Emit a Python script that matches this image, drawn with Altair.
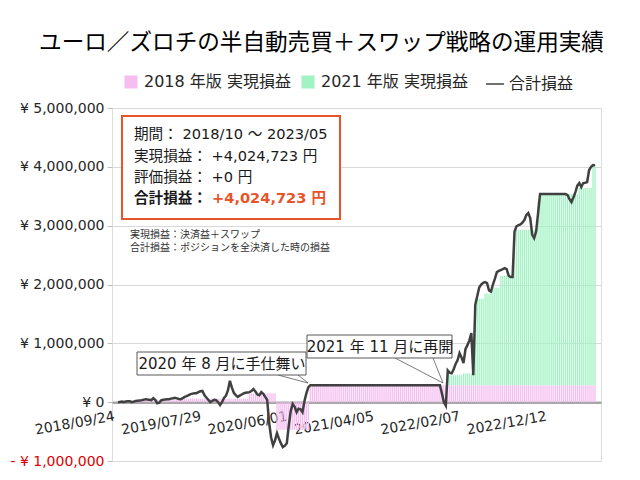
import altair as alt
import pandas as pd

# ---------------- data (values in thousand yen) ----------------
weeks = pd.date_range("2018-09-24", periods=244, freq="7D")
dates = [d.strftime("%Y-%m-%d") for d in weeks]

total_k = (
    [0, 5, 10, 5, 10, 15, 17, 0, 10, 20]
    + [25, 30, 34, 40, 51, 45, 40, 34, 68, 40]
    + [-20, -10, 30, 40, 45, 50, 51, 60, 65, 73]
    + [65, 55, 51, 70, 90, 102, 120, 136, 145, 150]
    + [153, 170, 185, 192, 120, 80, 40, 0, 20, 40]
    + [34, 0, -50, 0, 70, 110, 200, 362, 250, 160]
    + [120, 90, 110, 130, 150, 160, 165, 170, 190, 221]
    + [180, 130, 119, 170, 140, 90, 40, -350, -600, -731]
    + [-650, -527, -620, -700, -765, -740, -697, -400, -150, -30]
    + [-80, -170, -110, -120, -170, 20, 153, 255]
    + [289] * 67
    + [150, 0, -60]
    + [540, 500, 490, 560, 650, 714, 833, 760, 663, 900]
    + [969, 1050, 1173, 459, 1650, 1800, 1950, 2000, 2030, 2041]
    + [2024, 1900, 1880, 2000, 2100, 2211, 2230, 2245, 2260, 2279]
    + [2262, 2150, 2126, 2126, 2900, 2990, 3010, 3020, 3050, 3095]
    + [3180, 3214, 3129, 2850, 2789, 2900, 3214]
    + [3537] * 13
    + [3537, 3520, 3450, 3401, 3480, 3571, 3680, 3724, 3656, 3724]
    + [3730, 3741, 3946, 4000, 4031, 4025]
)

pink_k = [10] * 10 + [40] * 21 + [60] * 36 + [150] * 14 + [-470] * 17 + [289] * 146

green_k = (
    [0] * 168 + [170] * 8 + [200] * 6 + [1470] * 5 + [1560] * 4 + [1660] * 4
    + [1860] * 7 + [2640] * 12 + [3110] * 1 + [3248] * 20 + [3350] * 7 + [3736] * 2
)

series_names = ["2018 年版 実現損益", "2021 年版 実現損益"]
line_name = "合計損益"
tick_dates = ["2018-09-24", "2019-07-29", "2020-06-01", "2021-04-05", "2022-02-07", "2022-12-12"]
y_ticks = [-1000000, 0, 1000000, 2000000, 3000000, 4000000, 5000000]

# ---------------- tables ----------------
bars_df = pd.DataFrame({
    "date": dates * 2,
    "series": [series_names[0]] * len(dates) + [series_names[1]] * len(dates),
    "value": [v * 1000 for v in pink_k] + [v * 1000 for v in green_k],
})
line_df = pd.DataFrame({
    "date": dates,
    "name": [line_name] * len(dates),
    "value": [v * 1000 for v in total_k],
})

def ms(s):
    return int(pd.Timestamp(s, tz="UTC").timestamp() * 1000)

half_week = int(3.5 * 86400000)
x_domain = [ms(dates[0]) - half_week, ms(dates[-1]) + half_week]
tick_ms = [ms(d) for d in tick_dates]

FONT = "DejaVu Sans, Noto Sans CJK JP"
W, H = 489, 353
zero_px = H * 5 / 6

x_enc = alt.X(
    "date:T",
    scale=alt.Scale(type="utc", domain=x_domain),
    axis=alt.Axis(
        values=tick_ms,
        labelExpr="utcFormat(datum.value, '%Y/%m/%d')",
        labelAngle=350, labelAlign="right", labelBaseline="top",
        labelPadding=7, labelOffset=-5,
        labelFont=FONT, labelFontSize=14, labelColor="#262626",
        labelOverlap=False, labelFlush=False,
        offset=zero_px - H, ticks=False, grid=False,
        domainColor="#a6a6a6", domainWidth=2.5, title=None,
    ),
)
y_scale = alt.Scale(domain=[-1000000, 5000000], nice=False, zero=False)
y_axis = alt.Axis(
    values=y_ticks,
    labelExpr="datum.value < 0 ? '- ¥ ' + format(-datum.value, ',') : '¥ ' + format(datum.value, ',')",
    labelColor={"condition": {"test": "datum.value < 0", "value": "#e00000"}, "value": "#262626"},
    labelFont=FONT, labelFontSize=14, labelPadding=3,
    tickColor="#bfbfbf", tickSize=5, domain=False,
    gridColor="#d9d9d9", title=None,
)

bars = alt.Chart(bars_df).mark_bar(size=1.3).encode(
    x=x_enc,
    y=alt.Y("value:Q", stack="zero", scale=y_scale, axis=y_axis),
    color=alt.Color(
        "series:N",
        scale=alt.Scale(domain=series_names, range=["#f5bdf0", "#a2f2c3"]),
        legend=alt.Legend(
            orient="none", legendX=11, legendY=-34, direction="horizontal",
            title=None, symbolType="square", symbolSize=170, symbolStrokeWidth=0,
            labelFont=FONT, labelFontSize=16, labelColor="#262626",
            labelOffset=5, columnPadding=9, labelLimit=300,
        ),
    ),
    order=alt.Order("series:N", sort="ascending"),
)

line = alt.Chart(line_df).mark_line(strokeWidth=2.5).encode(
    x="date:T",
    y=alt.Y("value:Q", scale=y_scale),
    color=alt.Color(
        "name:N",
        scale=alt.Scale(domain=[line_name], range=["#404040"]),
        legend=alt.Legend(
            orient="none", legendX=373, legendY=-34, title=None,
            symbolType="stroke", symbolSize=320, symbolStrokeWidth=1.5,
            labelFont=FONT, labelFontSize=16, labelColor="#262626",
            labelOffset=4, labelLimit=300,
        ),
    ),
)

one = pd.DataFrame({"k": [0]})

def box(x1, x2, y1, y2, stroke, sw):
    return alt.Chart(one).mark_rect(fill="white", stroke=stroke, strokeWidth=sw).encode(
        x=alt.value(x1), x2=alt.value(x2), y=alt.value(y1), y2=alt.value(y2))

def label(txt, x, y, size, color="#1a1a1a", bold=False, align="left"):
    return alt.Chart(one).mark_text(
        font=FONT, fontSize=size, color=color, align=align, baseline="middle",
        fontWeight="bold" if bold else "normal",
    ).encode(x=alt.value(x), y=alt.value(y), text=alt.value(txt))

def seg(x1, y1, x2, y2):
    return alt.Chart(one).mark_rule(color="#595959", strokeWidth=0.8).encode(
        x=alt.value(x1), y=alt.value(y1), x2=alt.value(x2), y2=alt.value(y2))

ORANGE = "#e8542a"
annotations = [
    box(10, 228, 8, 111, ORANGE, 2),
    label("期間： 2018/10 ～ 2023/05", 22, 27, 14.6),
    label("実現損益： +4,024,723 円", 22, 49, 14.6),
    label("評価損益： +0 円", 22, 70, 14.6),
    label("合計損益：", 22, 91, 14.6, bold=True),
    label("+4,024,723 円", 100, 91, 14.6, color=ORANGE, bold=True),
    label("実現損益：決済益＋スワップ", 18, 127, 10, color="#333333"),
    label("合計損益：ポジションを全決済した時の損益", 18, 140, 10, color="#333333"),
    seg(166, 267, 196, 275), seg(186, 267, 196, 275),
    box(25, 194, 244, 267, "#595959", 1),
    label("2020 年 8 月に手仕舞い", 110, 256, 15, align="center"),
    seg(283, 250, 331, 275), seg(321, 250, 331, 275),
    box(195, 340, 227, 250, "#595959", 1),
    label("2021 年 11 月に再開", 268, 239, 15, align="center"),
]

chart = alt.layer(bars, line, *annotations).resolve_scale(color="independent").properties(
    width=W, height=H,
    autosize=alt.AutoSizeParams(type="none"),
    padding={"left": 112, "top": 108, "right": 39, "bottom": 19},
    title=alt.TitleParams(
        "ユーロ／ズロチの半自動売買＋スワップ戦略の運用実績",
        font="Noto Sans CJK JP", fontSize=22.6, fontWeight="normal", color="#000000",
        anchor="middle", frame="group", dx=-35, dy=-5, offset=14,
    ),
).configure_view(stroke="#d9d9d9", strokeWidth=1).configure(background="white")

chart.save("out.html", embed_options={"renderer": "svg", "actions": False})
